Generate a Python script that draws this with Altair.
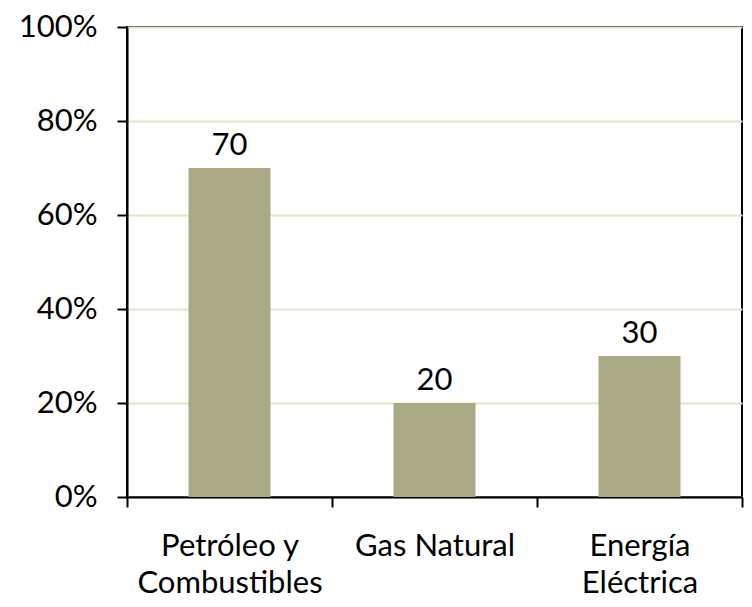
import altair as alt
import pandas as pd

categories = ["Petróleo y|Combustibles", "Gas Natural", "Energía|Eléctrica"]
values = [70, 20, 30]
y_ticks = [0, 20, 40, 60, 80, 100]

df = pd.DataFrame({"cat": categories, "val": values})

FONT = "Lato"
FS = 31

x = alt.X("cat:N", sort=categories, title=None,
          scale=alt.Scale(paddingInner=0, paddingOuter=0),
          axis=alt.Axis(labelAngle=0, tickBand="extent", tickSize=10, tickWidth=2,
                        tickColor="black", domainColor="black", domainWidth=2,
                        labelFont=FONT, labelFontSize=FS, labelColor="black",
                        labelPadding=24, labelLineHeight=37, labelBaseline="top",
                        labelLimit=400,
                        labelExpr="split(datum.label, '|')"))
y = alt.Y("val:Q", title=None,
          scale=alt.Scale(domain=[0, 100]),
          axis=alt.Axis(values=y_ticks, labelExpr="datum.value + '%'",
                        tickSize=10, tickWidth=2, tickColor="black",
                        domainColor="black", domainWidth=2,
                        gridColor="#e2e5cc", gridWidth=2,
                        labelFont=FONT, labelFontSize=FS, labelColor="black",
                        labelPadding=20))

base = alt.Chart(df)
bars = base.mark_bar(color="#a9a985", width=alt.RelativeBandSize(0.4)).encode(x=x, y=y)
text = base.mark_text(baseline="bottom", dy=-6, font=FONT, fontSize=FS, color="black").encode(
    x=alt.X("cat:N", sort=categories), y="val:Q", text="val:Q")

chart = (bars + text).properties(
    width=615, height=470,
    autosize=alt.AutoSizeParams(type="none"),
    padding={"left": 119, "top": 19, "right": 2, "bottom": 102},
).configure_view(stroke="black", strokeWidth=2)

chart.save("out.html", embed_options={"renderer": "svg", "actions": False})
